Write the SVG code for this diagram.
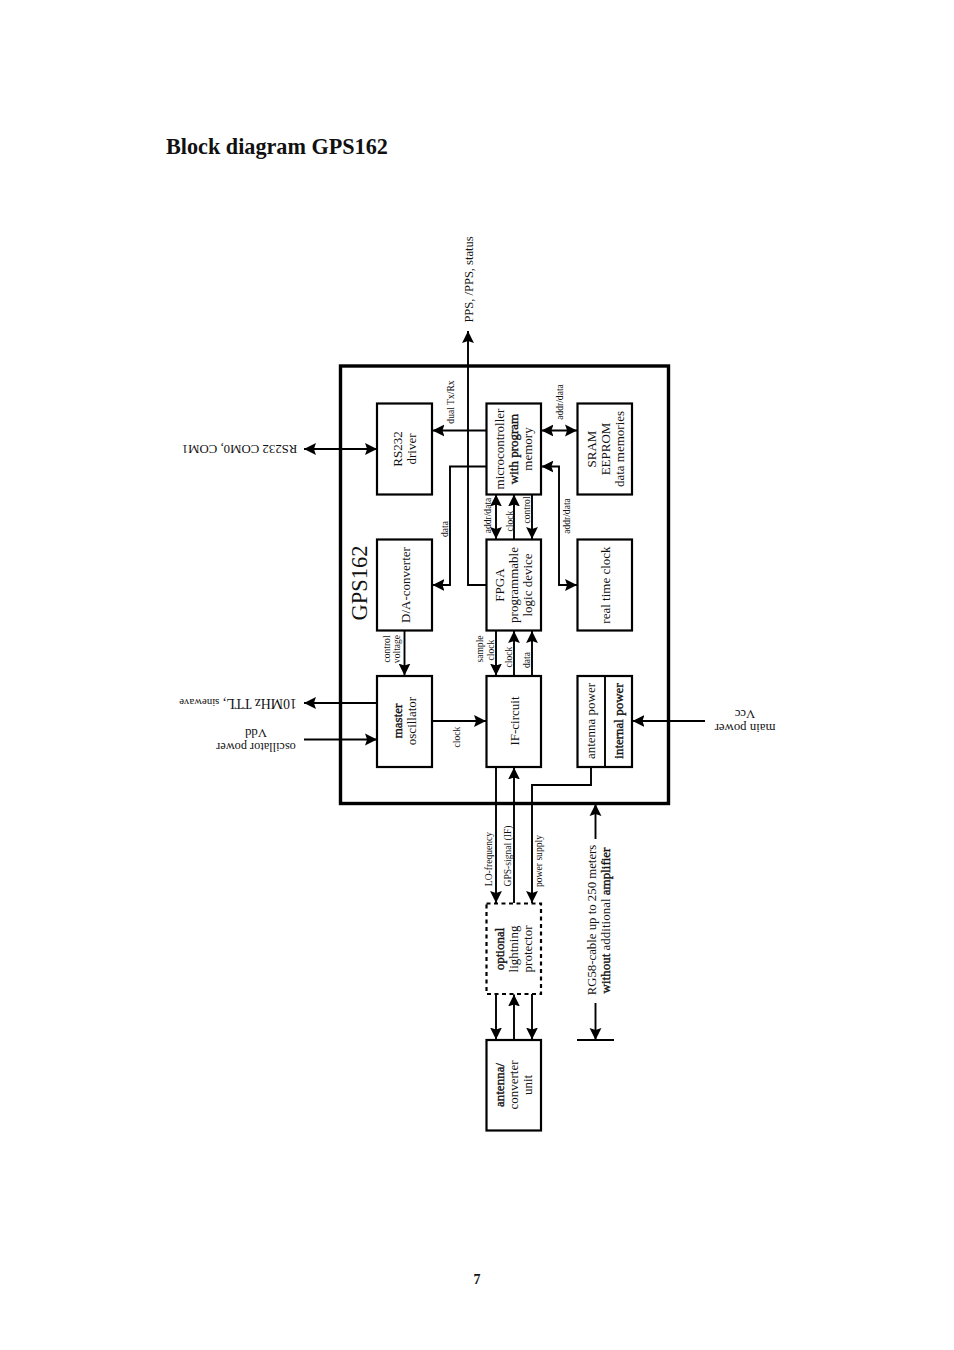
<svg xmlns="http://www.w3.org/2000/svg" width="954" height="1350" viewBox="0 0 954 1350">
<style>
text{font-family:"Liberation Serif","Times New Roman",serif;fill:#111;text-anchor:middle}
.b{fill:#fff;stroke:#000;stroke-width:2.200}
.l{fill:none;stroke:#000;stroke-width:1.900}
.t{font-size:13px}
.s{font-size:9.600px}
.m{font-size:12.800px}
.bd{stroke:#111;stroke-width:.35px}
</style>
<defs>
<marker id="a" viewBox="0 0 12 12" refX="11.5" refY="6" markerWidth="12.500" markerHeight="12.500" markerUnits="userSpaceOnUse" orient="auto-start-reverse"><path d="M0,0.300L11.5,6L0,11.700L2,6Z" fill="#000"/></marker>
</defs>
<rect width="954" height="1350" fill="#fff"/>
<text x="166" y="154" font-size="22.200" font-weight="bold" style="text-anchor:start">Block diagram GPS162</text>
<text x="477" y="1284" font-size="14" font-weight="bold">7</text>
<g id="connectors">
<path class="l" d="M304,449H377" marker-start="url(#a)" marker-end="url(#a)"/>
<path class="l" d="M486,430.500H432.500" marker-end="url(#a)"/>
<path class="l" d="M486,466.500H450V585H432.500" marker-end="url(#a)"/>
<path class="l" d="M486,585H468V331" marker-end="url(#a)"/>
<path class="l" d="M541.500,430.500H577" marker-start="url(#a)" marker-end="url(#a)"/>
<path class="l" d="M541.500,466.500H559V585H577" marker-start="url(#a)" marker-end="url(#a)"/>
<path class="l" d="M496,494.500V539" marker-start="url(#a)" marker-end="url(#a)"/>
<path class="l" d="M514,539V494.500" marker-end="url(#a)"/>
<path class="l" d="M532,494.500V539" marker-end="url(#a)"/>
<path class="l" d="M404.500,631V675.500" marker-end="url(#a)"/>
<path class="l" d="M496,631V675.500" marker-end="url(#a)"/>
<path class="l" d="M514,675.500V631" marker-end="url(#a)"/>
<path class="l" d="M532,675.500V631" marker-end="url(#a)"/>
<path class="l" d="M432.500,721H486" marker-end="url(#a)"/>
<path class="l" d="M377,703H304" marker-end="url(#a)"/>
<path class="l" d="M304,739.500H377" marker-end="url(#a)"/>
<path class="l" d="M705,721H632.500" marker-end="url(#a)"/>
<path class="l" d="M591,767V785H532V903" marker-end="url(#a)"/>
<path class="l" d="M496,767V903" marker-end="url(#a)"/>
<path class="l" d="M514,903V767.500" marker-end="url(#a)"/>
<path class="l" d="M595.500,839V804" marker-end="url(#a)"/>
<path class="l" d="M595.500,1003V1040" marker-end="url(#a)"/>
<path class="l" d="M577,1040H614"/>
<path class="l" d="M496,994V1039.500" marker-end="url(#a)"/>
<path class="l" d="M514,1039.500V994.500" marker-end="url(#a)"/>
<path class="l" d="M532,994V1039.500" marker-end="url(#a)"/>
</g>
<g id="gps162"><rect x="340.500" y="366" width="328" height="437.500" fill="none" stroke="#000" stroke-width="3.400"/>
<text transform="translate(367,583) rotate(-90)" font-size="22.500">GPS162</text></g>
<g id="rs232"><rect class="b" x="377" y="403.500" width="55" height="91"/>
<text class="t" transform="translate(402,449) rotate(-90)">RS232</text><text class="t" transform="translate(416,449) rotate(-90)">driver</text></g>
<g id="micro"><rect class="b" x="486.500" y="403.500" width="54.500" height="91"/>
<text class="t" transform="translate(503.500,449) rotate(-90)">microcontroller</text><text class="t bd" transform="translate(517.500,449) rotate(-90)">with program</text><text class="t" transform="translate(531.500,449) rotate(-90)">memory</text></g>
<g id="sram"><rect class="b" x="577.500" y="403.500" width="54.500" height="91"/>
<text class="t" transform="translate(596,449) rotate(-90)">SRAM</text><text class="t" transform="translate(609.500,449) rotate(-90)">EEPROM</text><text class="t" transform="translate(624,449) rotate(-90)">data memories</text></g>
<g id="da"><rect class="b" x="377" y="539.500" width="55" height="91"/>
<text class="t" transform="translate(410,585) rotate(-90)">D/A-converter</text></g>
<g id="fpga"><rect class="b" x="486.500" y="539.500" width="54.500" height="91"/>
<text class="t" transform="translate(504,585) rotate(-90)">FPGA</text><text class="t" transform="translate(517.500,585) rotate(-90)">programmable</text><text class="t" transform="translate(531.500,585) rotate(-90)">logic device</text></g>
<g id="rtc"><rect class="b" x="577.500" y="539.500" width="54.500" height="91"/>
<text class="t" transform="translate(610,585) rotate(-90)">real time clock</text></g>
<g id="master"><rect class="b" x="377" y="676" width="55" height="91"/>
<text class="t bd" transform="translate(402,721) rotate(-90)">master</text><text class="t" transform="translate(416,721) rotate(-90)">oscillator</text></g>
<g id="if"><rect class="b" x="486.500" y="676" width="54.500" height="91"/>
<text class="t" transform="translate(519,721) rotate(-90)">IF-circuit</text></g>
<g id="power"><rect class="b" x="577.500" y="676" width="54.500" height="91"/><path class="l" d="M605,676V767"/>
<text class="t" transform="translate(595,721) rotate(-90)">antenna power</text><text class="t bd" transform="translate(622.500,721) rotate(-90)">internal power</text></g>
<g id="lightning"><rect x="486.500" y="903.500" width="54.500" height="90.500" fill="#fff" stroke="#000" stroke-width="2.200" stroke-dasharray="4 3.500"/>
<text class="t bd" transform="translate(504,949) rotate(-90)">optional</text><text class="t" transform="translate(518,949) rotate(-90)">lightning</text><text class="t" transform="translate(531.500,949) rotate(-90)">protector</text></g>
<g id="antenna"><rect class="b" x="486.500" y="1040" width="54.500" height="90.500"/>
<text class="t bd" transform="translate(504,1085) rotate(-90)">antenna/</text><text class="t" transform="translate(518,1085) rotate(-90)">converter</text><text class="t" transform="translate(531.500,1085) rotate(-90)">unit</text></g>
<g id="labels">
<text class="s" transform="translate(454,402) rotate(-90)">dual Tx/Rx</text>
<text class="s" transform="translate(563,402) rotate(-90)">addr/data</text>
<text class="s" transform="translate(448,529) rotate(-90)">data</text>
<text class="s" transform="translate(491,515.500) rotate(-90)">addr/data</text>
<text class="s" transform="translate(513,521) rotate(-90)">clock</text>
<text class="s" transform="translate(530,510) rotate(-90)">control</text>
<text class="s" transform="translate(570,516) rotate(-90)">addr/data</text>
<text class="s" transform="translate(390,649) rotate(-90)">control</text>
<text class="s" transform="translate(400,649) rotate(-90)">voltage</text>
<text class="s" transform="translate(483,649) rotate(-90)">sample</text>
<text class="s" transform="translate(494,650) rotate(-90)">clock</text>
<text class="s" transform="translate(512,657) rotate(-90)">clock</text>
<text class="s" transform="translate(530,660) rotate(-90)">data</text>
<text class="s" transform="translate(460,737) rotate(-90)">clock</text>
<text class="s" transform="translate(492,859) rotate(-90)">LO-frequency</text>
<text class="s" transform="translate(511,856) rotate(-90)">GPS-signal (IF)</text>
<text class="s" transform="translate(541.500,861) rotate(-90)">power supply</text>
<text class="m" transform="translate(596,920) rotate(-90)">RG58-cable up to 250 meters</text>
<text class="m" transform="translate(610,920.500) rotate(-90)" style="font-size:13px"><tspan class="bd">without</tspan> additional <tspan class="bd">amplifier</tspan></text>
<text class="m" transform="translate(473,279.500) rotate(-90)" style="font-size:12.500px">PPS, /PPS, status</text>
<text class="m" transform="translate(239.500,445) rotate(180)">RS232 COM0, COM1</text>
<text class="m" transform="translate(238,699) rotate(180)" style="font-size:13.800px">10MHz TTL, <tspan font-size="10.800">sinewave</tspan></text>
<text class="m" transform="translate(256,729) rotate(180)">Vdd</text>
<text class="m" transform="translate(256,743) rotate(180)" style="font-size:12.300px">oscillator power</text>
<text class="m" transform="translate(745,710) rotate(180)">Vcc</text>
<text class="m" transform="translate(745,724) rotate(180)">main power</text>
</g>
</svg>
